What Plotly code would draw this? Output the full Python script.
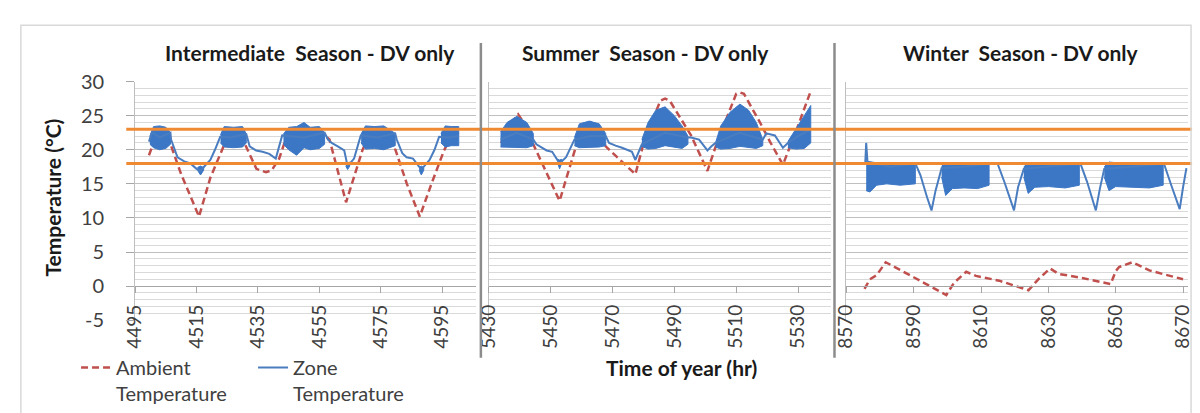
import plotly.graph_objects as go

W, H = 1200, 413

# ---------------- Intermediate season ----------------
int_amb_hr = [4499.5, 4501, 4503.5, 4505.5, 4507, 4510, 4513, 4515.8, 4519.5, 4523.8, 4526, 4529, 4531,
              4534.5, 4537.6, 4539.5, 4541.9, 4544, 4548, 4553, 4557, 4558.3, 4563.7, 4569, 4571, 4575,
              4579, 4579.7, 4583.5, 4587.7, 4591.5, 4595.6, 4598, 4600.4]
int_amb_t = [19.2, 21.0, 22.3, 22.3, 20.2, 16.4, 13.2, 10.2, 15.9, 20.5, 22.3, 22.5, 20.6,
             17.2, 16.7, 17.0, 18.7, 21.5, 22.5, 22.8, 22.0, 21.5, 12.3, 19.9, 22.0, 22.8,
             21.5, 20.1, 15.0, 10.2, 15.0, 19.9, 22.0, 22.5]

int_zone_hr = [4499.5, 4500.5, 4503, 4506.5, 4506.7, 4508.8, 4511, 4513, 4515, 4516.3, 4518, 4519.5,
               4521, 4522.7, 4526, 4531.2, 4532.3, 4534.4, 4536.5, 4538.7, 4540.8, 4542.9, 4550,
               4556.7, 4557.8, 4559, 4561, 4563.1, 4564.2, 4566.3, 4568.5, 4574, 4579.7, 4580.2,
               4582, 4583.4, 4585.5, 4588.2, 4590.9, 4592.5, 4594, 4597, 4600.4]
int_zone_t = [21.2, 22.6, 21.8, 22.5, 21.5, 18.9, 18.3, 18.0, 17.2, 16.9, 17.8, 18.5,
              20.0, 21.9, 21.8, 22.3, 20.5, 19.9, 19.7, 19.4, 18.7, 22.1, 21.8,
              22.5, 21.5, 21.0, 20.5, 19.9, 17.6, 18.7, 22.1, 21.8, 22.4, 21.5,
              19.5, 18.9, 18.7, 17.1, 18.5, 20.0, 21.9, 21.8, 22.0]

# on/off cycling envelopes of the zone temperature (None separates periods)
int_band_hr = [4499.8, 4501, 4503, 4505, 4506.5, None,
               4515.3, 4516.3, 4517.3, None,
               4522.8, 4524, 4527, 4530, 4531.2, None,
               4543.3, 4545, 4547.6, 4550, 4552, 4555, 4556.7, None,
               4563.6, 4564.2, 4564.9, None,
               4568.6, 4570, 4573, 4576, 4579.7, None,
               4587.5, 4588.2, 4589.0, None,
               4594.6, 4596, 4598, 4600.4]
int_band_hi = [22.0, 23.4, 23.5, 23.3, 22.5, None,
               17.4, 17.6, 17.4, None,
               22.2, 23.4, 23.3, 23.4, 22.3, None,
               22.3, 23.3, 23.4, 24.0, 23.3, 23.4, 22.5, None,
               18.2, 18.0, 18.2, None,
               22.3, 23.5, 23.4, 23.5, 22.4, None,
               17.4, 17.6, 17.4, None,
               22.4, 23.5, 23.4, 23.4]
int_band_lo = [20.8, 20.3, 20.0, 20.2, 20.8, None,
               17.0, 16.3, 17.0, None,
               21.0, 20.4, 20.3, 20.4, 21.0, None,
               20.8, 20.0, 19.2, 20.3, 20.0, 20.2, 20.8, None,
               17.6, 17.1, 17.6, None,
               21.0, 20.1, 20.2, 20.0, 20.6, None,
               17.0, 16.3, 17.0, None,
               21.0, 20.4, 20.6, 20.6]

# ---------------- Summer season ----------------
sum_amb_hr = [5434, 5436.5, 5439.5, 5442, 5444.4, 5452.9, 5458.2, 5461, 5463, 5466, 5467.8, 5477.4,
              5480.5, 5485.5, 5487, 5488.5, 5495.4, 5500.7, 5503.9, 5510, 5511.3, 5512.5, 5517.7,
              5520.9, 5525.1, 5529.4, 5534.1]
sum_amb_t = [21.0, 23.5, 25.2, 23.5, 20.8, 12.5, 20.5, 23.0, 24.0, 22.5, 20.5, 16.4,
             21.7, 27.2, 27.5, 27.2, 22.1, 16.9, 21.2, 28.2, 28.4, 28.2, 24.0,
             21.2, 17.8, 22.8, 28.6]

sum_zone_hr = [5433.8, 5439, 5444.4, 5445.4, 5448.7, 5450.5, 5452.9, 5455, 5457.7, 5463, 5467.8,
               5468.9, 5471, 5473.1, 5476.3, 5477.4, 5479.5, 5487, 5494.4, 5495.4, 5498, 5500.7,
               5502, 5503.3, 5511, 5518.6, 5519.7, 5522.5, 5525.1, 5526.7, 5530, 5534.1]
sum_zone_t = [21.5, 22.5, 21.5, 20.8, 19.9, 19.7, 18.0, 18.9, 21.5, 22.0, 22.0,
              21.0, 20.6, 20.3, 19.7, 18.5, 20.8, 22.5, 21.8, 21.8, 21.5, 19.9,
              20.5, 21.0, 22.5, 21.5, 22.4, 22.1, 20.3, 21.0, 22.0, 23.0]

sum_band_hr = [5433.8, 5435.9, 5439.1, 5442.3, 5444.4, None,
               5452.3, 5452.9, 5453.6, None,
               5457.7, 5459.3, 5462.5, 5465.7, 5467.8, None,
               5479.5, 5481.5, 5484, 5487, 5490, 5492.5, 5494.4, None,
               5503.3, 5505, 5508, 5511.2, 5514, 5516.5, 5518.6, None,
               5526.7, 5529.4, 5532, 5534.1]
sum_band_hi = [22.6, 24.0, 24.9, 24.0, 22.4, None,
               18.6, 18.5, 18.6, None,
               21.8, 23.8, 24.2, 23.8, 22.4, None,
               21.5, 24.0, 25.8, 26.3, 25.0, 23.5, 22.0, None,
               21.0, 23.5, 25.5, 26.7, 25.8, 24.0, 21.5, None,
               21.2, 23.2, 25.0, 26.5]
sum_band_lo = [20.4, 20.3, 20.3, 20.3, 20.6, None,
               18.0, 17.2, 18.0, None,
               20.6, 20.3, 20.3, 20.4, 20.6, None,
               20.5, 20.1, 20.2, 20.6, 20.4, 20.2, 20.8, None,
               20.4, 20.1, 20.2, 20.5, 20.3, 20.2, 20.6, None,
               20.3, 20.1, 20.2, 21.0]

# ---------------- Winter season ----------------
win_amb_hr = [8575.4, 8577, 8579, 8581.7, 8590, 8599.7, 8602, 8605.6, 8608.5, 8615.4, 8624.1,
              8627, 8630.5, 8633, 8640, 8648.5, 8650, 8651, 8654.9, 8660, 8670]
win_amb_t = [-0.4, 1.0, 1.6, 3.5, 1.3, -1.3, 0.5, 2.1, 1.5, 0.8, -0.6,
             1.0, 2.6, 1.8, 1.2, 0.3, 2.2, 2.8, 3.5, 2.3, 1.0]

win_zone_hr = [8575.6, 8575.9, 8576.3, 8583, 8590.5, 8592, 8594, 8595.3, 8596.5, 8598.3, 8605,
               8612.4, 8614.9, 8617, 8619.8, 8621, 8622.7, 8630, 8639.5, 8641.5, 8644.1, 8645.3,
               8646.6, 8655, 8664.3, 8666.5, 8669, 8670, 8671]
win_zone_t = [17.8, 21.0, 18.2, 17.5, 18.0, 16.3, 13.0, 11.1, 14.0, 17.3, 17.5,
              18.0, 18.0, 15.2, 11.1, 14.5, 17.2, 17.5, 18.0, 15.3, 11.1, 14.3,
              17.2, 17.5, 18.0, 14.8, 11.3, 14.5, 17.3]

win_band_hr = [8575.9, 8577, 8579, 8582, 8586, 8590.5, None,
               8598.3, 8599.5, 8601.5, 8605, 8609, 8612.4, None,
               8622.7, 8624, 8626, 8630, 8635, 8639.2, None,
               8646.6, 8648, 8650, 8655, 8660, 8664.1]
win_band_hi = [18.3, 18.2, 18.1, 18.0, 18.1, 18.0, None,
               17.6, 18.0, 18.1, 18.0, 18.0, 18.0, None,
               17.5, 18.0, 18.1, 18.0, 18.0, 18.1, None,
               17.5, 18.2, 18.1, 18.0, 18.0, 18.0]
win_band_lo = [14.0, 13.8, 14.8, 15.0, 14.8, 15.0, None,
               16.0, 13.3, 14.3, 14.4, 14.3, 14.8, None,
               16.0, 13.6, 14.5, 14.6, 14.4, 14.8, None,
               16.0, 14.0, 14.6, 14.5, 14.4, 14.8]

# axis settings
panel_titles = ["Intermediate\u00a0 Season - DV only", "Summer\u00a0 Season - DV only",
                "Winter\u00a0 Season - DV only"]
int_ticks = [4495, 4515, 4535, 4555, 4575, 4595]
sum_ticks = [5430, 5450, 5470, 5490, 5510, 5530]
win_ticks = [8570, 8590, 8610, 8630, 8650, 8670]
temp_ticks = [-5, 0, 5, 10, 15, 20, 25, 30]
temp_tick_text = ["-5", "0", "5", "10", "15", "20", "25", "30"]
comfort_limits = [18, 23]

AMB_COLOR = "#C0504D"
ZONE_COLOR = "#4A7DC0"
BAND_COLOR = "#3C77C6"
FONT = "Lato"


def px_x(p):
    return p / W


def px_y(p):
    return 1 - p / H


def band_polygon(hr, hi, lo):
    """Closed outline (upper edge forward, lower edge back) for each cycling period."""
    xs, ys = [], []
    seg_h, seg_hi, seg_lo = [], [], []
    for h, a, b in list(zip(hr, hi, lo)) + [(None, None, None)]:
        if h is None:
            if seg_h:
                xs += seg_h + seg_h[::-1] + [None]
                ys += seg_hi + seg_lo[::-1] + [None]
            seg_h, seg_hi, seg_lo = [], [], []
        else:
            seg_h.append(h)
            seg_hi.append(a)
            seg_lo.append(b)
    return xs, ys


fig = go.Figure()

panels = [
    (int_amb_hr, int_amb_t, int_zone_hr, int_zone_t, int_band_hr, int_band_hi, int_band_lo),
    (sum_amb_hr, sum_amb_t, sum_zone_hr, sum_zone_t, sum_band_hr, sum_band_hi, sum_band_lo),
    (win_amb_hr, win_amb_t, win_zone_hr, win_zone_t, win_band_hr, win_band_hi, win_band_lo),
]
for i, (ah, at, zh, zt, bh, bhi, blo) in enumerate(panels):
    xa = "x" if i == 0 else f"x{i + 1}"
    ya = "y" if i == 0 else f"y{i + 1}"
    fig.add_trace(go.Scatter(
        x=ah, y=at, xaxis=xa, yaxis=ya, mode="lines",
        line=dict(color=AMB_COLOR, width=2.5, dash="7px,4px"),
        name="Ambient<br>Temperature", legendgroup="amb", showlegend=(i == 0)))
    bx, by = band_polygon(bh, bhi, blo)
    fig.add_trace(go.Scatter(
        x=bx, y=by, xaxis=xa, yaxis=ya, mode="lines", fill="toself",
        fillcolor=BAND_COLOR, line=dict(color=BAND_COLOR, width=1),
        showlegend=False, hoverinfo="skip"))
    fig.add_trace(go.Scatter(
        x=zh, y=zt, xaxis=xa, yaxis=ya, mode="lines",
        line=dict(color=ZONE_COLOR, width=2),
        name="Zone<br>Temperature", legendgroup="zone", showlegend=(i == 0)))

# plot-area geometry (pixels)
y_top, y_bot = 73, 327
zero_px = y_top + (30 - 0) * (y_bot - y_top) / 35
x_domains = [(124, 470), (483, 830), (846, 1193)]
x_ranges = [(4495, 4606), (5430, 5540.5), (8570, 8671.5)]
x_ticks = [int_ticks, sum_ticks, win_ticks]

x_tick_font = dict(family=FONT, size=19, color="#404040")
y_tick_font = dict(family=FONT, size=20, color="#404040")
for i in range(3):
    sfx = "" if i == 0 else str(i + 1)
    fig.layout["xaxis" + sfx] = dict(
        domain=[px_x(x_domains[i][0]), px_x(x_domains[i][1])],
        range=list(x_ranges[i]), anchor="free", position=px_y(zero_px),
        tickmode="array", tickvals=x_ticks[i], tickangle=-90,
        ticks="outside", ticklen=6, tickcolor="#A6A6A6", tickwidth=1,
        showline=True, linecolor="#A6A6A6", linewidth=1,
        showgrid=False, zeroline=False, tickfont=x_tick_font,
        ticklabelstandoff=4)
    fig.layout["yaxis" + sfx] = dict(
        domain=[px_y(y_bot), px_y(y_top)], range=[-5, 30], anchor="x" + sfx,
        tickmode="array", tickvals=temp_ticks, ticktext=temp_tick_text,
        showticklabels=(i == 0), ticks="outside" if i == 0 else "",
        ticklen=8, tickcolor="#A6A6A6", tickfont=y_tick_font, ticklabelstandoff=18,
        showline=True, linecolor="#BFBFBF", linewidth=1,
        showgrid=True, gridcolor="#BFBFBF", gridwidth=1, zeroline=False,
        minor=dict(dtick=1, tick0=0, showgrid=True, gridcolor="#D9D9D9", gridwidth=1))

shapes = []
# comfort band limits across all three panels
for lim in comfort_limits:
    shapes.append(dict(type="line", xref="paper", yref="y", x0=px_x(115), x1=px_x(1197),
                       y0=lim, y1=lim, line=dict(color="#F08A32", width=3), layer="above"))
# panel separators
for xp in (475, 834):
    shapes.append(dict(type="line", xref="paper", yref="paper", x0=px_x(xp), x1=px_x(xp),
                       y0=px_y(32), y1=px_y(367), line=dict(color="#8C8C8C", width=2.5)))
# chart frame
shapes.append(dict(type="rect", xref="paper", yref="paper", x0=px_x(8), x1=px_x(1196),
                   y0=-0.05, y1=px_y(13), line=dict(color="#D9D9D9", width=1.5)))

title_font = dict(family=FONT, size=21, color="#1A1A1A", weight="bold")
axis_title_font = dict(family=FONT, size=21, color="#1A1A1A", weight="bold")
annotations = []
for txt, xc in zip(panel_titles, (302, 642, 1023)):
    annotations.append(dict(text=txt, x=px_x(xc), y=px_y(42), xref="paper", yref="paper",
                            showarrow=False, font=title_font, xanchor="center", yanchor="middle"))
annotations.append(dict(text="Temperature (\u00b0C)", x=px_x(40), y=px_y(196), xref="paper",
                        yref="paper", showarrow=False, textangle=-90, font=axis_title_font,
                        xanchor="center", yanchor="middle"))
annotations.append(dict(text="Time of year (hr)", x=px_x(679), y=px_y(377), xref="paper",
                        yref="paper", showarrow=False, font=axis_title_font,
                        xanchor="center", yanchor="middle"))

fig.update_layout(
    width=W, height=H, margin=dict(l=0, r=0, t=0, b=0),
    paper_bgcolor="white", plot_bgcolor="white",
    shapes=shapes, annotations=annotations,
    showlegend=True,
    legend=dict(orientation="h", x=px_x(64), y=px_y(357), xanchor="left", yanchor="top",
                font=dict(family=FONT, size=20, color="#404040"), valign="top",
                entrywidth=132, bgcolor="rgba(0,0,0,0)", tracegroupgap=0),
)

fig.write_html("out.html")
